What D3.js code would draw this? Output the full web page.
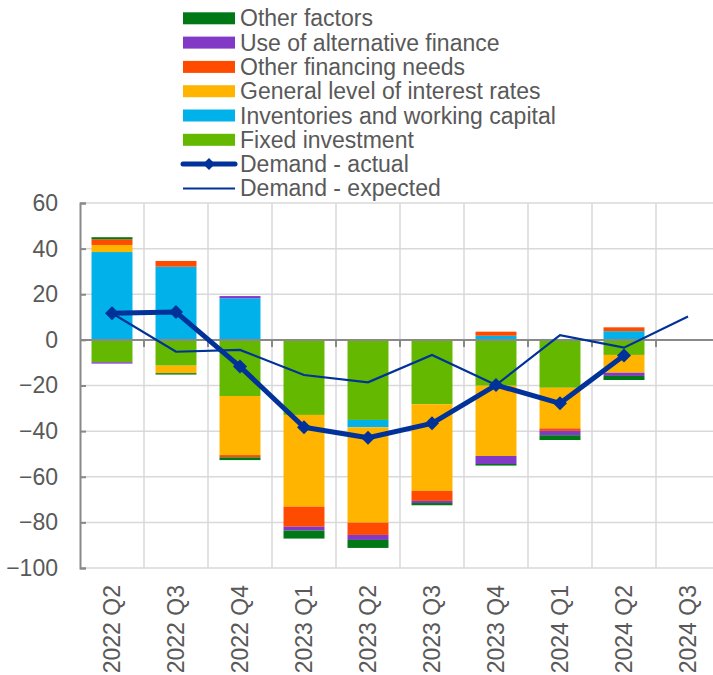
<!DOCTYPE html>
<html>
<head>
<meta charset="utf-8">
<script src="https://cdn.jsdelivr.net/npm/d3@7"></script>
<style>
  body { margin: 0; background: #fff; }
  svg text { font-family: "Liberation Sans", Arial, sans-serif; fill: #595959; }
</style>
</head>
<body>
<div id="chart-area"></div>
<script>
// Data (percentages)
var quarters = ["2022 Q2", "2022 Q3", "2022 Q4", "2023 Q1", "2023 Q2",
                "2023 Q3", "2023 Q4", "2024 Q1", "2024 Q2", "2024 Q3"];
var fixedInvestment = [-9.8, -11.3, -24.6, -32.9, -35.1, -28.2, -20.1, -21.0, -6.6, 0];
var inventories     = [38.5, 32.1, 18.2, 0.3, -3.2, 0.3, 1.8, 0.4, 3.8, 0];
var interestRates   = [3.1, -3.3, -25.9, -40.2, -41.8, -38.0, -30.8, -17.8, -7.8, 0];
var otherFinancing  = [2.5, 2.5, -1.0, -8.8, -5.4, -4.4, 1.8, -1.1, 1.7, 0];
var altFinance      = [-0.6, 0, 1.0, -1.7, -2.2, -0.9, -3.5, -1.9, -1.4, 0];
var otherFactors    = [0.9, -0.6, -1.2, -3.5, -3.5, -1.0, -0.7, -2.1, -1.8, 0];
var demandActual    = [11.7, 12.2, -11.7, -38.3, -42.9, -36.6, -19.8, -27.8, -6.9, null];
var demandExpected  = [11.7, -5.2, -4.4, -15.4, -18.6, -6.6, -19.8, 2.1, -3.4, 10.2];
var yTicks = [60, 40, 20, 0, -20, -40, -60, -80, -100];

var seriesKeys = ["fixed", "inventories", "interest", "otherFin", "altFin", "otherFactors"];
var seriesNames = {
    fixed: "Fixed investment",
    inventories: "Inventories and working capital",
    interest: "General level of interest rates",
    otherFin: "Other financing needs",
    altFin: "Use of alternative finance",
    otherFactors: "Other factors"
};
var colors = {
    fixed: "#65b800",
    inventories: "#00b1ea",
    interest: "#ffb400",
    otherFin: "#ff4b00",
    altFin: "#8139c6",
    otherFactors: "#007816"
};
var blue = "#003299";
var fontSize = "23px";

var width = 713, height = 675;
var svg = d3.select("#chart-area").append("svg")
    .attr("width", width)
    .attr("height", height);

// Scales
var x = d3.scaleBand()
    .domain(quarters)
    .range([80, 720])
    .paddingInner(0.36)
    .paddingOuter(0.18);
var y = d3.scaleLinear()
    .domain([-100, 60])
    .range([568, 203]);

// Table for stacking
var table = quarters.map(function(q, i) {
    return {
        quarter: q,
        fixed: fixedInvestment[i],
        inventories: inventories[i],
        interest: interestRates[i],
        otherFin: otherFinancing[i],
        altFin: altFinance[i],
        otherFactors: otherFactors[i]
    };
});
var stacked = d3.stack()
    .keys(seriesKeys)
    .offset(d3.stackOffsetDiverging)(table);

// Gridlines
var step = x.step();
var boundaries = quarters.map(function(q) { return x(q) - (step - x.bandwidth()) / 2; });
svg.append("g").selectAll("line")
    .data(yTicks)
    .enter().append("line")
        .attr("x1", 80).attr("x2", width)
        .attr("y1", function(d) { return y(d); })
        .attr("y2", function(d) { return y(d); })
        .attr("stroke", "#d9d9d9")
        .attr("stroke-width", 1.5);
svg.append("g").selectAll("line")
    .data(boundaries.slice(1))
    .enter().append("line")
        .attr("x1", function(d) { return d; })
        .attr("x2", function(d) { return d; })
        .attr("y1", y(60)).attr("y2", y(-100))
        .attr("stroke", "#d9d9d9")
        .attr("stroke-width", 1.5);

// Bars
svg.append("g").selectAll("g")
    .data(stacked)
    .enter().append("g")
        .attr("fill", function(d) { return colors[d.key]; })
    .selectAll("rect")
    .data(function(d) { return d; })
    .enter().append("rect")
        .attr("x", function(d) { return x(d.data.quarter); })
        .attr("width", x.bandwidth())
        .attr("y", function(d) { return y(Math.max(d[0], d[1])); })
        .attr("height", function(d) { return Math.abs(y(d[0]) - y(d[1])); });

// Zero line with tick marks
svg.append("line")
    .attr("x1", 80).attr("x2", width)
    .attr("y1", y(0)).attr("y2", y(0))
    .attr("stroke", "#898989")
    .attr("stroke-width", 2);
svg.append("g").selectAll("line")
    .data(boundaries.slice(1))
    .enter().append("line")
        .attr("x1", function(d) { return d; })
        .attr("x2", function(d) { return d; })
        .attr("y1", y(0)).attr("y2", y(0) + 7)
        .attr("stroke", "#898989")
        .attr("stroke-width", 2);

// Y axis
var yAxisCall = d3.axisLeft(y)
    .tickValues(yTicks)
    .tickSize(-6)
    .tickPadding(22);
var yAxis = svg.append("g")
    .attr("transform", "translate(80,0)")
    .call(yAxisCall);
yAxis.select(".domain").attr("stroke", "#898989").attr("stroke-width", 2);
yAxis.selectAll(".tick line").attr("stroke", "#898989").attr("stroke-width", 2);
yAxis.selectAll(".tick text")
    .attr("font-size", fontSize)
    .attr("fill", "#595959")
    .style("font-family", "'Liberation Sans', Arial, sans-serif");

// X labels
svg.append("g").selectAll("text")
    .data(quarters)
    .enter().append("text")
        .attr("transform", function(d) {
            return "translate(" + (x(d) + x.bandwidth() / 2 + 8) + ",585) rotate(-90)";
        })
        .attr("text-anchor", "end")
        .attr("font-size", fontSize)
        .text(function(d) { return d; });

// Lines
var cx = function(i) { return x(quarters[i]) + x.bandwidth() / 2; };
var lineGen = d3.line()
    .defined(function(d) { return d != null; })
    .x(function(d, i) { return cx(i); })
    .y(function(d) { return y(d); });

svg.append("path")
    .datum(demandExpected)
    .attr("fill", "none")
    .attr("stroke", blue)
    .attr("stroke-width", 2.2)
    .attr("d", lineGen);

svg.append("path")
    .datum(demandActual)
    .attr("fill", "none")
    .attr("stroke", blue)
    .attr("stroke-width", 5)
    .attr("stroke-linejoin", "round")
    .attr("d", lineGen);

var diamond = "M0,-7L7,0L0,7L-7,0Z";
svg.append("g").selectAll("path")
    .data(demandActual.map(function(v, i) { return { v: v, i: i }; })
        .filter(function(d) { return d.v != null; }))
    .enter().append("path")
        .attr("d", diamond)
        .attr("fill", blue)
        .attr("transform", function(d) { return "translate(" + cx(d.i) + "," + y(d.v) + ")"; });

// Legend
var legendItems = ["otherFactors", "altFin", "otherFin", "interest", "inventories", "fixed", "actual", "expected"];
var legend = svg.append("g").attr("transform", "translate(183,0)");
legendItems.forEach(function(key, i) {
    var row = legend.append("g")
        .attr("transform", "translate(0," + (18.3 + i * 24.3) + ")");
    if (colors[key]) {
        row.append("rect")
            .attr("x", 0).attr("y", -6)
            .attr("width", 52).attr("height", 12)
            .attr("fill", colors[key]);
    } else if (key == "actual") {
        row.append("line")
            .attr("x1", 0).attr("x2", 52)
            .attr("stroke", blue).attr("stroke-width", 5)
            .attr("stroke-linecap", "round");
        row.append("path")
            .attr("d", "M0,-6L6,0L0,6L-6,0Z")
            .attr("transform", "translate(26,0)")
            .attr("fill", blue);
    } else {
        row.append("line")
            .attr("x1", 0).attr("x2", 52)
            .attr("stroke", blue).attr("stroke-width", 2);
    }
    row.append("text")
        .attr("x", 57)
        .attr("y", 8)
        .attr("font-size", fontSize)
        .text(key == "actual" ? "Demand - actual" :
              key == "expected" ? "Demand - expected" : seriesNames[key]);
});
</script>
</body>
</html>
